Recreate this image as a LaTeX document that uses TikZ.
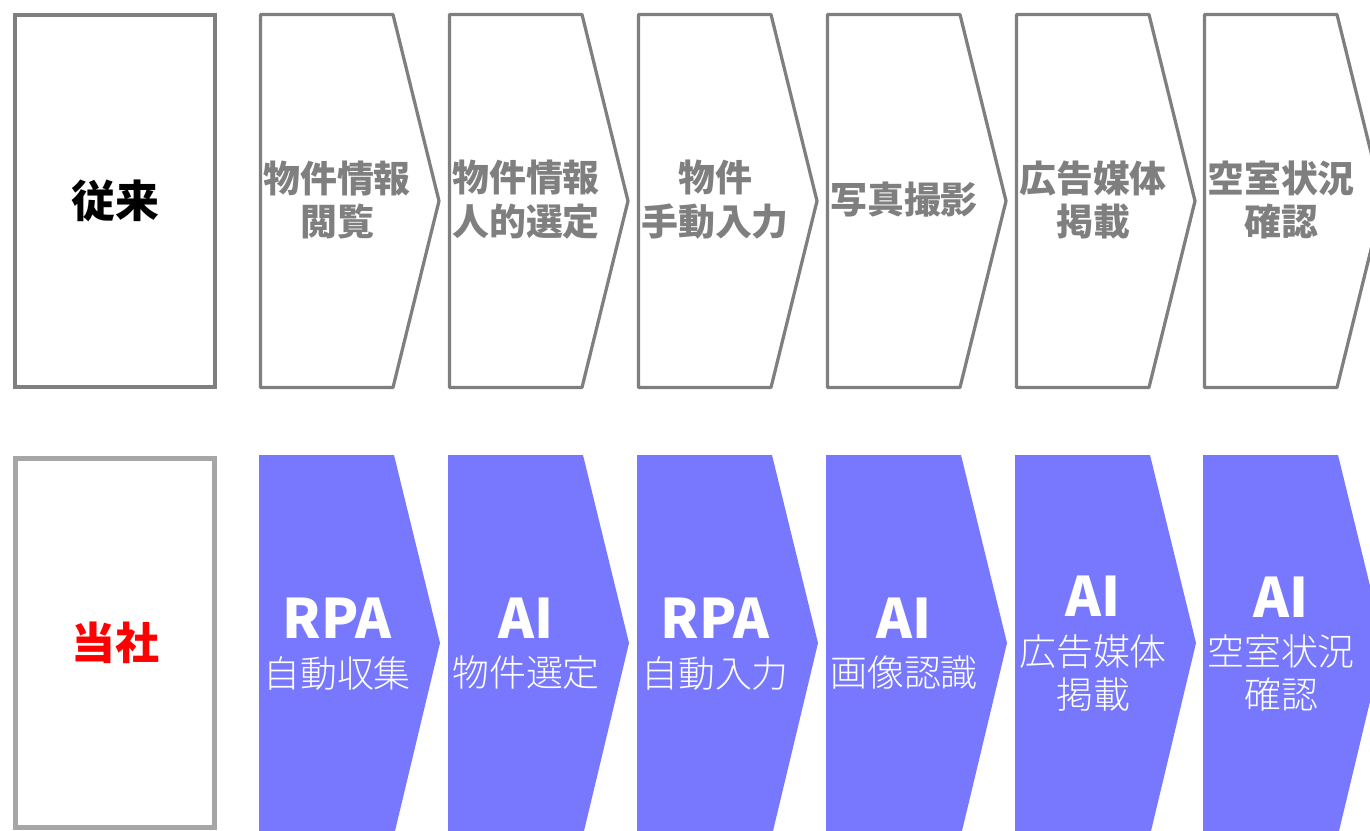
\documentclass[tikz,border=0pt]{standalone}
\usepackage{fontspec}
\setmainfont{Noto Sans CJK JP}
\IfFontExistsTF{Noto Sans CJK JP Light}
	{\newfontfamily\jplight{Noto Sans CJK JP Light}}
	{\newfontfamily\jplight{Noto Sans CJK JP}}
\usepackage{tikz}
\usetikzlibrary{positioning}
\definecolor{oldgray}{HTML}{7F7F7F}
\definecolor{boxgray}{HTML}{A6A6A6}
\definecolor{flowblue}{RGB}{120,120,255}

\begin{document}
\begin{tikzpicture}[x=0.02cm, y=-0.02cm]
	\useasboundingbox (0,0) rectangle (1370,831);

	% row labels
	\node[draw=oldgray, line width=0.08cm, minimum width=4cm, minimum height=7.44cm,
	      font=\bfseries\fontsize{25}{30}\selectfont] (old) at (115,201) {従来};
	\node[draw=boxgray, line width=0.1cm, minimum width=3.98cm, minimum height=7.39cm,
	      text=red, font=\bfseries\fontsize{25}{30}\selectfont] (ours) at (115,643) {当社};

	% old flow
	\begin{scope}[every node/.style={align=center, text=oldgray,
	              font=\bfseries\fontsize{21}{25}\selectfont}]
		\foreach \x/\txt [count=\i] in {259/{物件情報\\閲覧}, 448/{物件情報\\人的選定},
		                                637/{物件\\手動入力}, 826/{写真撮影},
		                                1015/{広告媒体\\掲載}, 1203/{空室状況\\確認}}
		{
			\draw[oldgray, line width=0.065cm, line join=round]
				(\x+1.5,14.5) -- (\x+134,14.5) -- (\x+180,201)
				-- (\x+134,387.5) -- (\x+1.5,387.5) -- cycle;
			\node (old\i) at (\x+78,200) {\txt};
		}
	\end{scope}

	% new flow
	\begin{scope}[every node/.style={align=center, text=white, inner sep=0pt}]
		\foreach \x/\head/\txt [count=\i] in {259/RPA/{自動収集}, 448/AI/{物件選定},
		                                      637/RPA/{自動入力}, 826/AI/{画像認識},
		                                      1015/AI/{広告媒体\\掲載}, 1203/AI/{空室状況\\確認}}
		{
			\fill[flowblue]
				(\x,455) -- (\x+135,455) -- (\x+181,643)
				-- (\x+136,831) -- (\x,831) -- cycle;
			\node[font=\jplight\fontsize{21}{24.5}\selectfont] (sub\i) at (\x+78,673) {\txt};
			\node[font=\bfseries\fontsize{31}{36}\selectfont, above=0.34cm of sub\i] (head\i) {\head};
		}
	\end{scope}
\end{tikzpicture}
\end{document}
